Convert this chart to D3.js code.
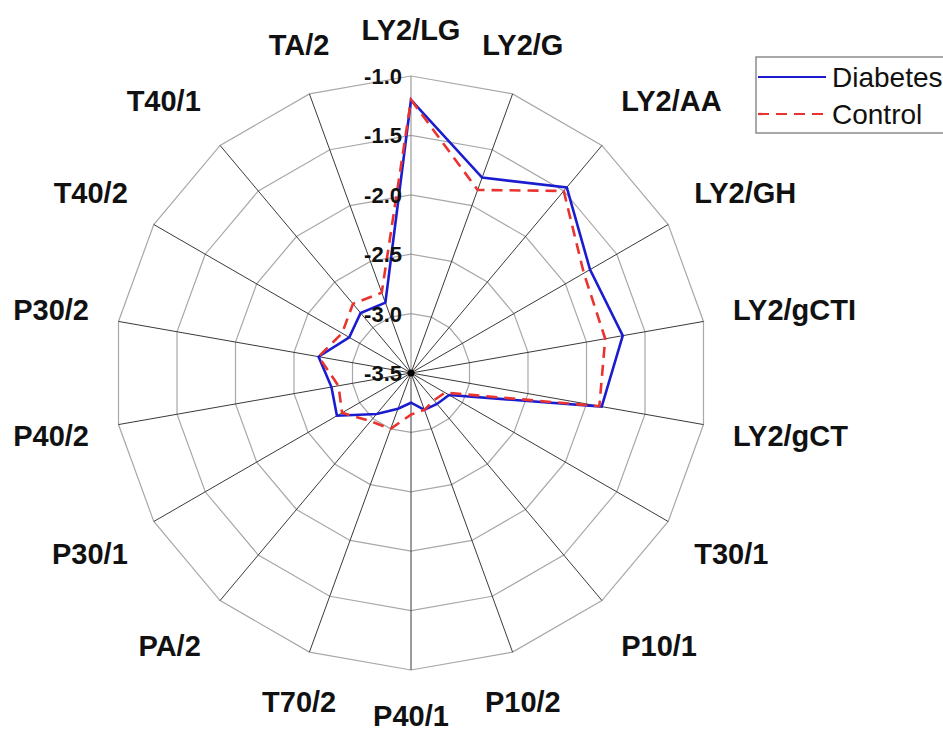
<!DOCTYPE html>
<html>
<head>
<meta charset="utf-8">
<script src="https://cdn.jsdelivr.net/npm/d3@7"></script>
<style>
  body { margin: 0; background: #fff; }
  svg { display: block; font-family: "Liberation Sans", Arial, sans-serif; }
</style>
</head>
<body>
<svg id="chart" width="943" height="731"></svg>
<script>
// axes, clockwise from the top
const categories = ["LY2/LG", "LY2/G", "LY2/AA", "LY2/GH", "LY2/gCTI", "LY2/gCT", "T30/1", "P10/1",
  "P10/2", "P40/1", "T70/2", "PA/2", "P30/1", "P40/2", "P30/2", "T40/2", "T40/1", "TA/2"];

const diabetes = [-1.20, -1.75, -1.46, -1.76, -1.69, -1.87, -3.13, -3.16, -3.17, -3.25,
  -3.18, -3.05, -2.78, -2.82, -2.71, -2.90, -2.84, -2.87];
const control = [-1.20, -1.86, -1.50, -1.82, -1.84, -1.89, -3.17, -3.20, -3.17, -3.15,
  -3.00, -2.97, -2.83, -2.88, -2.71, -2.83, -2.74, -2.78];

const ringValues = [-3.0, -2.5, -2.0, -1.5, -1.0];
const tickValues = [-3.5, -3.0, -2.5, -2.0, -1.5, -1.0];
const tickLabels = ["-3.5", "-3.0", "-2.5", "-2.0", "-1.5", "-1.0"];

const seriesNames = ["Diabetes", "Control"];

const cx = 411, cy = 373, R = 297;

const svg = d3.select("#chart");
const g = svg.append("g").attr("transform", `translate(${cx},${cy})`);

const r = d3.scaleLinear().domain([-3.5, -1.0]).range([0, R]);
const angle = d3.scaleLinear().domain([0, categories.length]).range([0, 2 * Math.PI]);

const radial = d3.lineRadial()
  .angle((d, i) => angle(i))
  .radius(d => r(d))
  .curve(d3.curveLinearClosed);

// grid rings (polygons)
g.selectAll("path.ring")
  .data(ringValues)
  .enter()
  .append("path")
  .attr("class", "ring")
  .attr("d", v => radial(categories.map(() => v)))
  .attr("fill", "none")
  .attr("stroke", "#a8a8a8")
  .attr("stroke-width", 1.2);

// spokes
g.selectAll("line.spoke")
  .data(categories)
  .enter()
  .append("line")
  .attr("class", "spoke")
  .attr("x1", 0).attr("y1", 0)
  .attr("x2", (d, i) => R * Math.sin(angle(i)))
  .attr("y2", (d, i) => -R * Math.cos(angle(i)))
  .attr("stroke", (d, i) => i === 0 ? "#8a8a8a" : "#3a3a3a")
  .attr("stroke-width", 1);

// series
g.append("path")
  .attr("d", radial(diabetes))
  .attr("fill", "none")
  .attr("stroke", "#1c1ccf")
  .attr("stroke-width", 2.6)
  .attr("stroke-linejoin", "miter");

g.append("path")
  .attr("d", radial(control))
  .attr("fill", "none")
  .attr("stroke", "#e8332f")
  .attr("stroke-width", 2.6)
  .attr("stroke-dasharray", "11,7");

// center dot
g.append("circle").attr("r", 3.5).attr("fill", "#000");

// radial tick labels
g.selectAll("text.tick")
  .data(tickValues)
  .enter()
  .append("text")
  .attr("class", "tick")
  .attr("x", -9)
  .attr("y", v => -r(v))
  .attr("dy", "0.36em")
  .attr("text-anchor", "end")
  .attr("font-size", 22)
  .attr("font-weight", "bold")
  .attr("fill", "#111")
  .text((v, i) => tickLabels[i]);

// category labels - pushed a bit further out on the diagonals
g.selectAll("text.cat")
  .data(categories)
  .enter()
  .append("text")
  .attr("class", "cat")
  .attr("x", (d, i) => Math.sin(angle(i)) * (R + 30))
  .attr("y", (d, i) => {
    const c = Math.cos(angle(i));
    return -c * (R + 46) - Math.sign(c) * 10 * Math.abs(Math.sin(2 * angle(i)));
  })
  .attr("dy", "0.36em")
  .attr("text-anchor", (d, i) => {
    const s = Math.sin(angle(i));
    if (Math.abs(s) < 0.4) return "middle";
    return s > 0 ? "start" : "end";
  })
  .attr("font-size", 29)
  .attr("font-weight", "bold")
  .attr("fill", "#111")
  .text(d => d);

// legend
const legend = svg.append("g").attr("transform", "translate(756,57)");
legend.append("rect")
  .attr("width", 200).attr("height", 76)
  .attr("fill", "#fff")
  .attr("stroke", "#8c8c8c")
  .attr("stroke-width", 1.5);

const legendStyles = [
  { color: "#1c1ccf", dash: null },
  { color: "#e8332f", dash: "11,7" }
];

seriesNames.forEach((name, i) => {
  const y = 20 + i * 37;
  legend.append("line")
    .attr("x1", 2).attr("x2", 70)
    .attr("y1", y).attr("y2", y)
    .attr("stroke", legendStyles[i].color)
    .attr("stroke-width", 2.2)
    .attr("stroke-dasharray", legendStyles[i].dash);
  legend.append("text")
    .attr("x", 76).attr("y", y)
    .attr("dy", "0.36em")
    .attr("font-size", 28)
    .attr("fill", "#111")
    .text(name);
});
</script>
</body>
</html>
